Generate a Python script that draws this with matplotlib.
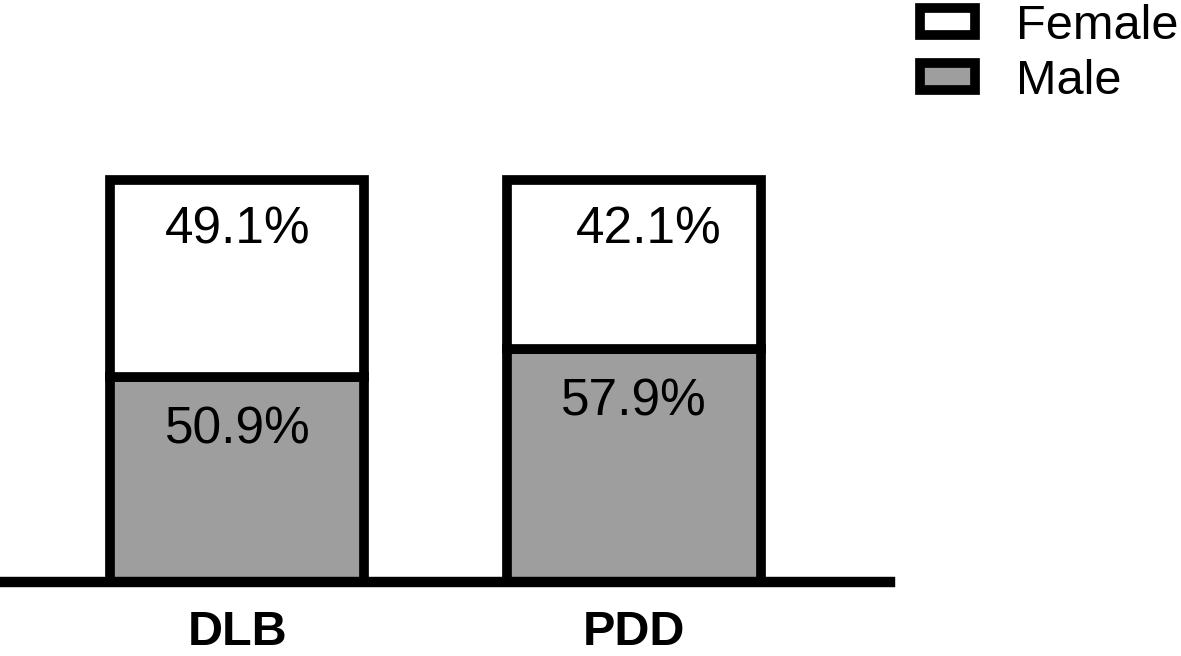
import numpy as np
import matplotlib.pyplot as plt

groups = ["DLB", "PDD"]
male = [50.9, 57.9]
female = [49.1, 42.1]
male_labels = ["50.9%", "57.9%"]
female_labels = ["49.1%", "42.1%"]

plt.rcParams['font.family'] = ['Liberation Sans', 'DejaVu Sans']

fig = plt.figure(figsize=(11.81, 6.56), dpi=100)
ax = fig.add_axes([0, 74/656, 890/1181, 402/656])

x = np.arange(len(groups))
lw = 7
b_male = ax.bar(x, male, width=0.64, color="#9e9e9e", edgecolor="black",
                linewidth=lw, label="Male", zorder=2, clip_on=False)
b_female = ax.bar(x, female, width=0.64, bottom=male, color="white",
                  edgecolor="black", linewidth=lw, label="Female", zorder=2,
                  clip_on=False)
ax.axhline(0, color="black", linewidth=7.5, zorder=3, clip_on=False)

# labels sit near the top of each segment
fx_off = [0, 14]
for i in range(len(groups)):
    ax.annotate(female_labels[i], (x[i], 100), xytext=(fx_off[i] * 0.72, -36),
                textcoords="offset points", ha="center", va="center",
                fontsize=37, color="black")
    ax.annotate(male_labels[i], (x[i], male[i]), xytext=(0, -38),
                textcoords="offset points", ha="center", va="center",
                fontsize=37, color="black")

ax.set_xlim(-0.598, 1.644)
ax.set_ylim(0, 100)
ax.set_xticks(x)
ax.set_xticklabels(groups, fontsize=35, fontweight="bold")
ax.tick_params(axis="x", length=0, pad=20)
ax.set_yticks([])
for s in ax.spines.values():
    s.set_visible(False)
ax.patch.set_alpha(0)

fig.legend([b_female, b_male], ["Female", "Male"], loc="upper left",
           bbox_to_anchor=(920/1181, 1 - 4/656), frameon=False, fontsize=35,
           handlelength=1.13, handleheight=0.49, handletextpad=0.85,
           labelspacing=0.2, borderpad=0.0, borderaxespad=0.0)

fig.savefig("out.png", dpi=100)
